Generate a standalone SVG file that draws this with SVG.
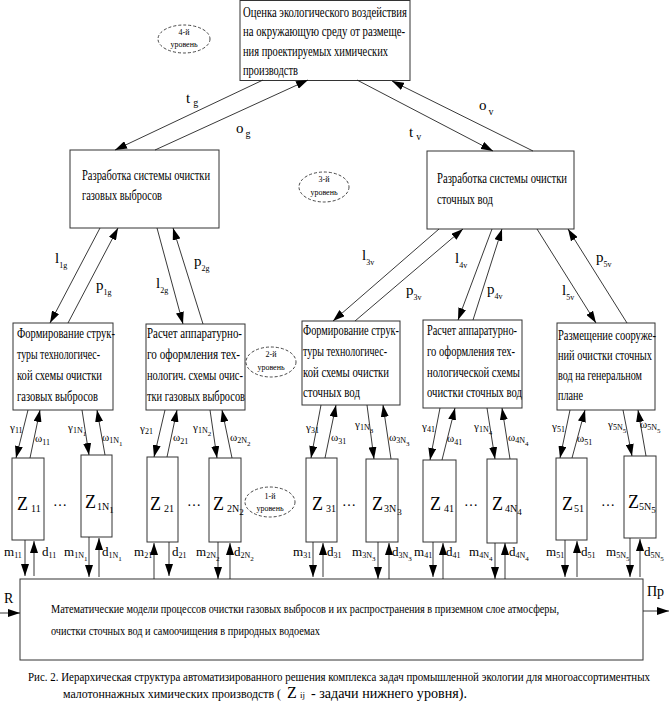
<svg xmlns="http://www.w3.org/2000/svg" width="669" height="707" viewBox="0 0 669 707">
<defs>
<marker id="ah" markerUnits="userSpaceOnUse" markerWidth="12" markerHeight="8" refX="12" refY="4" orient="auto"><path d="M0,0 L12,4 L0,8 z" fill="#000"/></marker>
<style>
text{font-family:"Liberation Serif","Times New Roman",serif;fill:#000}
.box{fill:#fff;stroke:#333;stroke-width:1}
.ell{fill:none;stroke:#333;stroke-width:0.9;stroke-dasharray:3,2}
.t15{font-size:15px}
.t14{font-size:14px}
.t13{font-size:13px}
.lv{font-size:8px;text-anchor:middle}
.lab{font-size:15px}
.sub{font-size:10px}
.g{font-size:11px}
.s{font-size:8px}
.s2{font-size:7px}
.z{font-size:18px}
.zs{font-size:10px}
.zs2{font-size:9px}
.md{font-size:13px}
#conn line{stroke:#222;stroke-width:0.9}
#conn .a{marker-end:url(#ah)}
</style>
</defs>

<g id="n-top">
<rect class="box" x="240" y="0.5" width="170" height="80"/>
<text class="t15" x="243" y="17" textLength="164" lengthAdjust="spacingAndGlyphs">Оценка экологического воздействия</text>
<text class="t15" x="243" y="36" textLength="162" lengthAdjust="spacingAndGlyphs">на окружающую среду от размеще-</text>
<text class="t15" x="243" y="56" textLength="145" lengthAdjust="spacingAndGlyphs">ния проектируемых химических</text>
<text class="t15" x="243" y="75" textLength="55" lengthAdjust="spacingAndGlyphs">производств</text>
</g>
<g id="lvl4">
<ellipse class="ell" cx="184" cy="39" rx="26" ry="14"/>
<text class="lv" x="184" y="35">4-й</text>
<text class="lv" x="184" y="47">уровень</text>
</g>

<g id="n-gas">
<rect class="box" x="70" y="150" width="149" height="78"/>
<text class="t14" x="82" y="180" textLength="128" lengthAdjust="spacingAndGlyphs">Разработка системы очистки</text>
<text class="t14" x="82" y="200" textLength="80" lengthAdjust="spacingAndGlyphs">газовых выбросов</text>
</g>
<g id="n-water">
<rect class="box" x="427" y="151" width="147" height="78"/>
<text class="t14" x="437" y="183" textLength="130" lengthAdjust="spacingAndGlyphs">Разработка системы очистки</text>
<text class="t14" x="437" y="204" textLength="56" lengthAdjust="spacingAndGlyphs">сточных вод</text>
</g>
<g id="lvl3">
<ellipse class="ell" cx="324" cy="187" rx="25" ry="15"/>
<text class="lv" x="324" y="182">3-й</text>
<text class="lv" x="324" y="195">уровень</text>
</g>

<g id="n-b1">
<rect class="box" x="13" y="323" width="100" height="87"/>
<text class="t14" x="17" y="338" textLength="98" lengthAdjust="spacingAndGlyphs">Формирование струк-</text>
<text class="t14" x="17" y="359" textLength="83" lengthAdjust="spacingAndGlyphs">туры технологичес-</text>
<text class="t14" x="17" y="380" textLength="85" lengthAdjust="spacingAndGlyphs">кой схемы очистки</text>
<text class="t14" x="17" y="401" textLength="81" lengthAdjust="spacingAndGlyphs">газовых выбросов</text>
</g>
<g id="n-b2">
<rect class="box" x="146" y="324" width="99" height="86"/>
<text class="t14" x="147" y="338" textLength="95" lengthAdjust="spacingAndGlyphs">Расчет аппаратурно-</text>
<text class="t14" x="147" y="359" textLength="93" lengthAdjust="spacingAndGlyphs">го оформления тех-</text>
<text class="t14" x="147" y="380" textLength="96" lengthAdjust="spacingAndGlyphs">нологич. схемы очис-</text>
<text class="t14" x="147" y="401" textLength="98" lengthAdjust="spacingAndGlyphs">тки газовых выбросов</text>
</g>
<g id="lvl2">
<ellipse class="ell" cx="271" cy="362" rx="25" ry="15"/>
<text class="lv" x="271" y="357">2-й</text>
<text class="lv" x="271" y="370">уровень</text>
</g>
<g id="n-b3">
<rect class="box" x="302" y="321" width="98" height="84"/>
<text class="t14" x="303" y="335" textLength="96" lengthAdjust="spacingAndGlyphs">Формирование струк-</text>
<text class="t14" x="303" y="356" textLength="84" lengthAdjust="spacingAndGlyphs">туры технологичес-</text>
<text class="t14" x="303" y="377" textLength="86" lengthAdjust="spacingAndGlyphs">кой схемы очистки</text>
<text class="t14" x="303" y="397" textLength="57" lengthAdjust="spacingAndGlyphs">сточных вод</text>
</g>
<g id="n-b4">
<rect class="box" x="423" y="320" width="99" height="88"/>
<text class="t14" x="427" y="335" textLength="90" lengthAdjust="spacingAndGlyphs">Расчет аппаратурно-</text>
<text class="t14" x="427" y="356" textLength="88" lengthAdjust="spacingAndGlyphs">го оформления тех-</text>
<text class="t14" x="427" y="377" textLength="93" lengthAdjust="spacingAndGlyphs">нологической схемы</text>
<text class="t14" x="427" y="397" textLength="95" lengthAdjust="spacingAndGlyphs">очистки сточных вод</text>
</g>
<g id="n-b5">
<rect class="box" x="557" y="323" width="98" height="87"/>
<text class="t14" x="558" y="340" textLength="98" lengthAdjust="spacingAndGlyphs">Размещение сооруже-</text>
<text class="t14" x="558" y="360" textLength="94" lengthAdjust="spacingAndGlyphs">ний очистки сточных</text>
<text class="t14" x="558" y="380" textLength="84" lengthAdjust="spacingAndGlyphs">вод на генеральном</text>
<text class="t14" x="558" y="400" textLength="25" lengthAdjust="spacingAndGlyphs">плане</text>
</g>

<g id="n-z11"><rect class="box" x="12" y="458" width="32" height="82"/><text class="z" x="17" y="510">Z<tspan class="zs" dx="3" dy="2">11</tspan></text></g>
<g id="n-z1n1"><rect class="box" x="81" y="455" width="31" height="82"/><text class="z" x="85" y="508">Z<tspan class="zs" dx="1" dy="2">1N</tspan><tspan class="zs2" dy="3">1</tspan></text></g>
<g id="n-z21"><rect class="box" x="147" y="457" width="31" height="85"/><text class="z" x="150" y="510">Z<tspan class="zs" dx="3" dy="2">21</tspan></text></g>
<g id="n-z2n2"><rect class="box" x="209" y="458" width="32" height="84"/><text class="z" x="213" y="510">Z<tspan class="zs" dx="3" dy="2">2N</tspan><tspan class="zs2" dy="3">2</tspan></text></g>
<g id="lvl1">
<ellipse class="ell" cx="270" cy="502" rx="25" ry="15"/>
<text class="lv" x="270" y="499">1-й</text>
<text class="lv" x="270" y="511">уровень</text>
</g>
<g id="n-z31"><rect class="box" x="306" y="458" width="31" height="84"/><text class="z" x="312" y="510">Z<tspan class="zs" dx="3" dy="2">31</tspan></text></g>
<g id="n-z3n3"><rect class="box" x="366" y="459" width="32" height="83"/><text class="z" x="372" y="510">Z<tspan class="zs" dx="1" dy="2">3N</tspan><tspan class="zs2" dx="1" dy="3">3</tspan></text></g>
<g id="n-z41"><rect class="box" x="423" y="460" width="33" height="82"/><text class="z" x="430" y="510">Z<tspan class="zs" dx="3" dy="2">41</tspan></text></g>
<g id="n-z4n4"><rect class="box" x="487" y="459" width="30" height="84"/><text class="z" x="492" y="510">Z<tspan class="zs" dx="2" dy="2">4N</tspan><tspan class="zs2" dy="3">4</tspan></text></g>
<g id="n-z51"><rect class="box" x="556" y="458" width="31" height="82"/><text class="z" x="562" y="510">Z<tspan class="zs" dx="1" dy="2">51</tspan></text></g>
<g id="n-z5n5"><rect class="box" x="624" y="456" width="32" height="82"/><text class="z" x="628" y="508">Z<tspan class="zs" dx="0" dy="2">5N</tspan><tspan class="zs2" dy="3">5</tspan></text></g>
<g id="dots">
<text class="t14" x="53" y="506">…</text>
<text class="t14" x="187" y="506">…</text>
<text class="t14" x="342" y="506">…</text>
<text class="t14" x="464" y="506">…</text>
<text class="t14" x="601" y="506">…</text>
</g>

<g id="n-models">
<rect class="box" x="20" y="579" width="623" height="81"/>
<text class="t13" x="51" y="613" textLength="508" lengthAdjust="spacingAndGlyphs">Математические модели процессов очистки газовых выбросов и их распространения в приземном слое атмосферы,</text>
<text class="t13" x="51" y="635" textLength="269" lengthAdjust="spacingAndGlyphs">очистки сточных вод и самоочищения в природных водоемах</text>
</g>

<g id="conn">
<line class="a" x1="263" y1="80" x2="115" y2="150"/>
<line class="a" x1="155" y1="150" x2="308" y2="80"/>
<line class="a" x1="357" y1="80" x2="493" y2="151"/>
<line class="a" x1="533" y1="151" x2="392" y2="81"/>

<line class="a" x1="100" y1="228" x2="50" y2="323"/>
<line class="a" x1="68" y1="323" x2="118" y2="228"/>
<line class="a" x1="157" y1="228" x2="183" y2="324"/>
<line class="a" x1="203" y1="324" x2="173" y2="228"/>
<line class="a" x1="439" y1="229" x2="333" y2="321"/>
<line class="a" x1="355" y1="321" x2="463" y2="229"/>
<line class="a" x1="492" y1="229" x2="458" y2="320"/>
<line class="a" x1="473" y1="320" x2="502" y2="229"/>
<line class="a" x1="537" y1="229" x2="596" y2="323"/>
<line class="a" x1="627" y1="323" x2="568" y2="229"/>

<line class="a" x1="28" y1="410" x2="16" y2="458"/>
<line class="a" x1="30" y1="458" x2="40" y2="410"/>
<line class="a" x1="82" y1="410" x2="89" y2="455"/>
<line class="a" x1="105" y1="455" x2="97" y2="410"/>
<line class="a" x1="165" y1="410" x2="154" y2="457"/>
<line class="a" x1="167" y1="457" x2="177" y2="410"/>
<line class="a" x1="210" y1="410" x2="217" y2="458"/>
<line class="a" x1="232" y1="458" x2="222" y2="410"/>
<line class="a" x1="321" y1="405" x2="311" y2="458"/>
<line class="a" x1="325" y1="458" x2="336" y2="405"/>
<line class="a" x1="367" y1="405" x2="374" y2="459"/>
<line class="a" x1="391" y1="459" x2="383" y2="405"/>
<line class="a" x1="440" y1="408" x2="430" y2="460"/>
<line class="a" x1="442" y1="460" x2="455" y2="408"/>
<line class="a" x1="487" y1="408" x2="495" y2="459"/>
<line class="a" x1="510" y1="459" x2="502" y2="408"/>
<line class="a" x1="570" y1="410" x2="560" y2="458"/>
<line class="a" x1="572" y1="458" x2="585" y2="410"/>
<line class="a" x1="623" y1="410" x2="632" y2="456"/>
<line class="a" x1="646" y1="456" x2="638" y2="410"/>

<line class="a" x1="25" y1="540" x2="25" y2="576"/>
<line class="a" x1="34" y1="576" x2="34" y2="541"/>
<line class="a" x1="89" y1="537" x2="89" y2="577"/>
<line class="a" x1="99" y1="577" x2="99" y2="538"/>
<line class="a" x1="154" y1="579" x2="154" y2="543"/>
<line class="a" x1="169" y1="542" x2="169" y2="576"/>
<line class="a" x1="218" y1="542" x2="218" y2="579"/>
<line class="a" x1="230" y1="579" x2="230" y2="543"/>
<line class="a" x1="313" y1="542" x2="313" y2="577"/>
<line class="a" x1="323" y1="577" x2="323" y2="543"/>
<line class="a" x1="378" y1="542" x2="378" y2="579"/>
<line class="a" x1="389" y1="579" x2="389" y2="543"/>
<line class="a" x1="433" y1="542" x2="433" y2="577"/>
<line class="a" x1="443" y1="579" x2="443" y2="543"/>
<line class="a" x1="495" y1="543" x2="495" y2="579"/>
<line class="a" x1="505" y1="579" x2="505" y2="543"/>
<line class="a" x1="565" y1="540" x2="565" y2="577"/>
<line class="a" x1="577" y1="577" x2="577" y2="541"/>
<line class="a" x1="630" y1="538" x2="630" y2="577"/>
<line class="a" x1="640" y1="577" x2="640" y2="539"/>

<line class="a" x1="0" y1="613" x2="20" y2="613"/>
<line class="a" x1="643" y1="611" x2="669" y2="611"/>
</g>

<g id="labels">
<text class="lab" x="186" y="103">t<tspan class="sub" dx="3" dy="3">g</tspan></text>
<text class="lab" x="236" y="133">o<tspan class="sub" dx="2" dy="4">g</tspan></text>
<text class="lab" x="409" y="137">t<tspan class="sub" dx="3" dy="3">v</tspan></text>
<text class="lab" x="479" y="110">o<tspan class="sub" dx="2" dy="5">v</tspan></text>

<text class="lab" x="55" y="263">l<tspan class="s" dx="0" dy="5">1g</tspan></text>
<text class="lab" x="96" y="290">p<tspan class="s" dx="0" dy="5">1g</tspan></text>
<text class="lab" x="156" y="288">l<tspan class="s" dy="5">2g</tspan></text>
<text class="lab" x="194" y="266">p<tspan class="s" dy="5">2g</tspan></text>
<text class="lab" x="362" y="260">l<tspan class="s" dy="5">3v</tspan></text>
<text class="lab" x="406" y="295">p<tspan class="s" dy="5">3v</tspan></text>
<text class="lab" x="455" y="263">l<tspan class="s" dy="5">4v</tspan></text>
<text class="lab" x="487" y="294">p<tspan class="s" dy="5">4v</tspan></text>
<text class="lab" x="596" y="262">p<tspan class="s" dy="5">5v</tspan></text>
<text class="lab" x="562" y="295">l<tspan class="s" dy="5">5v</tspan></text>

<text class="g" x="10" y="431">γ<tspan class="s" dy="2">11</tspan></text>
<text class="g" x="35" y="442">ω<tspan class="s" dy="3">11</tspan></text>
<text class="g" x="68" y="431">γ<tspan class="s" dy="2">1N</tspan><tspan class="s2" dy="3">1</tspan></text>
<text class="g" x="102" y="441">ω<tspan class="s" dy="2">1N</tspan><tspan class="s2" dy="3">1</tspan></text>
<text class="g" x="140" y="432">γ<tspan class="s" dy="2">21</tspan></text>
<text class="g" x="173" y="441">ω<tspan class="s" dy="3">21</tspan></text>
<text class="g" x="193" y="431">γ<tspan class="s" dy="2">1N</tspan><tspan class="s2" dy="3">2</tspan></text>
<text class="g" x="230" y="441">ω<tspan class="s" dy="2">2N</tspan><tspan class="s2" dy="3">2</tspan></text>
<text class="g" x="306" y="431">γ<tspan class="s" dy="2">31</tspan></text>
<text class="g" x="331" y="441">ω<tspan class="s" dy="3">31</tspan></text>
<text class="g" x="355" y="428">γ<tspan class="s" dy="2">1N</tspan><tspan class="s2" dy="3">3</tspan></text>
<text class="g" x="389" y="441">ω<tspan class="s" dy="2">3N</tspan><tspan class="s2" dy="3">3</tspan></text>
<text class="g" x="422" y="430">γ<tspan class="s" dy="2">41</tspan></text>
<text class="g" x="447" y="442">ω<tspan class="s" dy="3">41</tspan></text>
<text class="g" x="474" y="430">γ<tspan class="s" dy="2">1N</tspan><tspan class="s2" dy="3">4</tspan></text>
<text class="g" x="508" y="441">ω<tspan class="s" dy="2">4N</tspan><tspan class="s2" dy="3">4</tspan></text>
<text class="g" x="552" y="430">γ<tspan class="s" dy="2">51</tspan></text>
<text class="g" x="577" y="442">ω<tspan class="s" dy="3">51</tspan></text>
<text class="g" x="608" y="428">γ<tspan class="s" dy="2">5N</tspan><tspan class="s2" dy="3">5</tspan></text>
<text class="g" x="640" y="428">ω<tspan class="s" dy="2">5N</tspan><tspan class="s2" dy="3">5</tspan></text>

<text class="md" x="4" y="556">m<tspan class="s" dy="2">11</tspan></text>
<text class="md" x="42" y="556">d<tspan class="s" dy="2">11</tspan></text>
<text class="md" x="64" y="556">m<tspan class="s" dy="2">1N</tspan><tspan class="s2" dy="3">1</tspan></text>
<text class="md" x="102" y="556">d<tspan class="s" dy="2">1N</tspan><tspan class="s2" dy="3">1</tspan></text>
<text class="md" x="134" y="556">m<tspan class="s" dy="2">21</tspan></text>
<text class="md" x="172" y="556">d<tspan class="s" dy="2">21</tspan></text>
<text class="md" x="196" y="556">m<tspan class="s" dy="2">2N</tspan><tspan class="s2" dy="3">2</tspan></text>
<text class="md" x="234" y="556">d<tspan class="s" dy="2">2N</tspan><tspan class="s2" dy="3">2</tspan></text>
<text class="md" x="293" y="556">m<tspan class="s" dy="2">31</tspan></text>
<text class="md" x="327" y="556">d<tspan class="s" dy="2">31</tspan></text>
<text class="md" x="352" y="556">m<tspan class="s" dy="2">3N</tspan><tspan class="s2" dy="3">3</tspan></text>
<text class="md" x="392" y="556">d<tspan class="s" dy="2">3N</tspan><tspan class="s2" dy="3">3</tspan></text>
<text class="md" x="414" y="556">m<tspan class="s" dy="2">41</tspan></text>
<text class="md" x="446" y="556">d<tspan class="s" dy="2">41</tspan></text>
<text class="md" x="469" y="556">m<tspan class="s" dy="2">4N</tspan><tspan class="s2" dy="3">4</tspan></text>
<text class="md" x="509" y="556">d<tspan class="s" dy="2">4N</tspan><tspan class="s2" dy="3">4</tspan></text>
<text class="md" x="546" y="556">m<tspan class="s" dy="2">51</tspan></text>
<text class="md" x="581" y="556">d<tspan class="s" dy="2">51</tspan></text>
<text class="md" x="606" y="556">m<tspan class="s" dy="2">5N</tspan><tspan class="s2" dy="3">5</tspan></text>
<text class="md" x="644" y="556">d<tspan class="s" dy="2">5N</tspan><tspan class="s2" dy="3">5</tspan></text>

<text class="t14" x="4" y="603">R</text>
<text class="t14" x="647" y="596">Пр</text>
</g>

<g id="caption">
<text class="t13" x="28" y="681" textLength="622" lengthAdjust="spacingAndGlyphs">Рис. 2. Иерархическая структура  автоматизированного решения комплекса задач промышленной экологии для многоассортиментных</text>
<text x="63" y="698" font-size="13.5" textLength="218" lengthAdjust="spacingAndGlyphs">малотоннажных химических производств (</text>
<text x="287" y="698" font-size="16">Z</text>
<text x="300" y="698" font-size="9">ij</text>
<text x="311" y="698" font-size="14.5" textLength="156" lengthAdjust="spacingAndGlyphs">- задачи нижнего уровня).</text>
</g>
</svg>
